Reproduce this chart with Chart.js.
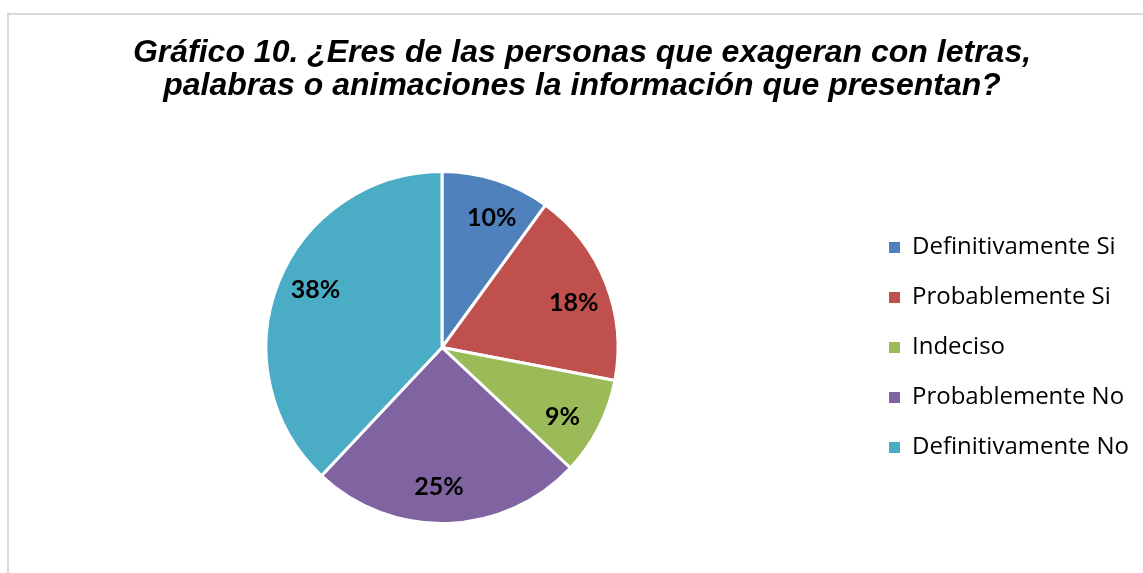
<!DOCTYPE html>
<html>
<head>
<meta charset="utf-8">
<script src="https://cdn.jsdelivr.net/npm/chart.js@4"></script>
<style>
  html, body { margin: 0; padding: 0; background: #fff; }
  body { width: 1143px; height: 573px; position: relative; overflow: hidden; }
  #frame { position: absolute; left: 7px; top: 13px; width: 1145px; height: 558px; border: 2px solid #d9d9d9; }
  #chart { position: absolute; left: 0; top: 0; }
</style>
</head>
<body>
<div id="frame"></div>
<canvas id="chart" width="1143" height="573"></canvas>
<script>
// Датасет
const categories = ['Definitivamente Si', 'Probablemente Si', 'Indeciso', 'Probablemente No', 'Definitivamente No'];
const values = [10, 18, 9, 25, 38];
const pctLabels = ['10%', '18%', '9%', '25%', '38%'];
const colors = ['#4f81bd', '#c0504d', '#9bbb59', '#8064a2', '#4bacc6'];

const titleLines = [
  'Gráfico 10. ¿Eres de las personas que exageran con letras,',
  'palabras o animaciones la información que presentan?'
];

// Подписи процентов внутри секторов
const pctPlugin = {
  id: 'pctLabels',
  afterDatasetsDraw(chart) {
    const ctx = chart.ctx;
    const meta = chart.getDatasetMeta(0);
    ctx.save();
    ctx.font = 'bold 25px Lato';
    ctx.fillStyle = '#000';
    ctx.textAlign = 'center';
    ctx.textBaseline = 'middle';
    meta.data.forEach((arc, i) => {
      const p = arc.getProps(['x', 'y', 'startAngle', 'endAngle', 'outerRadius']);
      const mid = (p.startAngle + p.endAngle) / 2 + 3 * Math.PI / 180;
      const r = p.outerRadius * 0.79;
      ctx.fillText(pctLabels[i], p.x + Math.cos(mid) * r, p.y + Math.sin(mid) * r);
    });
    ctx.restore();
  }
};

// Фиксированная ширина легенды
const legendWidthPlugin = {
  id: 'legendWidth',
  beforeLayout(chart) {
    const legend = chart.legend;
    if (legend && !legend._fixed) {
      legend._fixed = true;
      const origFit = legend.fit;
      legend.fit = function () {
        origFit.call(this);
        this.width = 280;
      };
    }
  }
};

const ctx = document.getElementById('chart').getContext('2d');
new Chart(ctx, {
  type: 'pie',
  data: {
    labels: categories,
    datasets: [{
      data: values,
      backgroundColor: colors,
      borderColor: '#fff',
      borderWidth: 3
    }]
  },
  options: {
    responsive: false,
    animation: false,
    layout: { padding: { left: 21, right: 0, top: 0, bottom: 48 } },
    plugins: {
      title: {
        display: true,
        text: titleLines,
        color: '#000',
        font: { family: '"Liberation Sans", Arial', size: 32, weight: 'bold', style: 'italic', lineHeight: '33px' },
        padding: { top: 37, bottom: 67 }
      },
      legend: {
        position: 'right',
        align: 'center',
        fullSize: false,
        labels: {
          boxWidth: 11,
          boxHeight: 11,
          padding: 26,
          color: '#000',
          font: { family: '"Open Sans"', size: 24 },
          // квадратики без белой обводки
          generateLabels: () => categories.map((text, i) => ({
            text: text,
            fillStyle: colors[i],
            strokeStyle: colors[i],
            lineWidth: 0,
            hidden: false,
            index: i
          }))
        }
      },
      tooltip: { enabled: false }
    }
  },
  plugins: [pctPlugin, legendWidthPlugin]
});
</script>
</body>
</html>
